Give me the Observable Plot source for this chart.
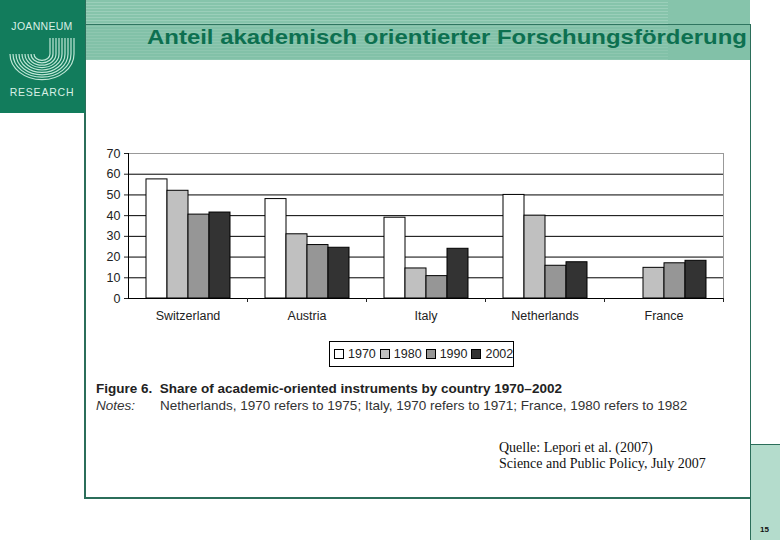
<!DOCTYPE html>
<html><head><meta charset="utf-8">
<script src="https://cdn.jsdelivr.net/npm/d3@7"></script>
<script src="https://cdn.jsdelivr.net/npm/@observablehq/plot@0.6"></script>
<style>
html,body{margin:0;padding:0;background:#fff;}
#page{position:relative;width:780px;height:540px;overflow:hidden;font-family:"Liberation Sans",Arial,sans-serif;}
.abs{position:absolute;}
.stripes{background:repeating-linear-gradient(to bottom,#86c4ab 0px,#86c4ab 2px,#9bcfba 2px,#9bcfba 3px);}
</style></head>
<body><div id="page">
  <div class="abs stripes" style="left:85px;top:0;width:583px;height:24px;"></div>
  <div class="abs" style="left:668px;top:0;width:82px;height:24px;background:#86c4ab;"></div>
  <div class="abs" style="left:85px;top:24px;width:583px;height:36px;background:repeating-linear-gradient(to bottom,#82c1a8 0px,#82c1a8 2px,#8ec7b0 2px,#8ec7b0 3px);"></div>
  <div class="abs" style="left:668px;top:24px;width:82px;height:36px;background:#82c1a8;"></div>
  <div class="abs" style="left:85px;top:24px;width:665px;height:1px;background:#2f7560;"></div>
  <div class="abs" style="left:84px;top:0;width:1.5px;height:498px;background:#2b6e5a;"></div>
  <div class="abs" style="left:84px;top:497px;width:667px;height:1.5px;background:#2b6e5a;"></div>
  <div class="abs" style="left:749.5px;top:24px;width:1.5px;height:516px;background:#2b6e5a;"></div>
  <div class="abs" style="left:751px;top:444px;width:29px;height:96px;background:#b4dccc;border-top:1px solid #2b6e5a;"></div>
  <div class="abs" style="left:760px;top:525px;font-size:8px;font-weight:bold;color:#111;">15</div>
  <svg class="abs" style="left:0;top:0;" width="85" height="113">
    <rect x="0" y="0" width="85" height="113" fill="#127c5c"/>
    <text x="42" y="30" text-anchor="middle" font-size="10.5" fill="#d8efe5" letter-spacing="0.3" font-family="Liberation Sans, Arial">JOANNEUM</text>
    <text x="42" y="96" text-anchor="middle" font-size="10.5" fill="#d8efe5" letter-spacing="0.8" font-family="Liberation Sans, Arial">RESEARCH</text>
    <g fill="none" stroke="#bfe6d6" stroke-width="1.2" id="logo"></g>
  </svg>
  <div class="abs" style="left:147px;top:25px;font-size:21px;font-weight:bold;color:#0d7050;white-space:nowrap;transform:scaleX(1.14);transform-origin:left top;">Anteil akademisch orientierter Forschungsförderung</div>
  <div id="chart" class="abs" style="left:90px;top:140px;"></div>
  <div id="legend" class="abs" style="left:329px;top:341px;width:185px;height:26px;border:1px solid #000;box-sizing:border-box;display:flex;align-items:center;padding-left:4px;gap:0;font-size:12.5px;color:#222;"></div>
  <div class="abs" style="left:96px;top:380px;font-size:13.5px;line-height:17px;color:#333;white-space:nowrap;">
    <div style="font-weight:bold;color:#222;">Figure 6.&nbsp; Share of academic-oriented instruments by country 1970–2002</div>
    <div><span style="font-style:italic;display:inline-block;width:64px;">Notes:</span>Netherlands, 1970 refers to 1975; Italy, 1970 refers to 1971; France, 1980 refers to 1982</div>
  </div>
  <div class="abs" style="left:499px;top:440px;font-family:'Liberation Serif','Times New Roman',serif;font-size:14px;line-height:16px;color:#111;white-space:nowrap;">
    <div>Quelle: Lepori et al. (2007)</div>
    <div>Science and Public Policy, July 2007</div>
  </div>
</div>
<script>
const countries = ["Switzerland", "Austria", "Italy", "Netherlands", "France"];
const years = ["1970", "1980", "1990", "2002"];
const share1970 = [57.5, 48, 39, 50, null];
const share1980 = [52, 31, 14.5, 40, 14.8];
const share1990 = [40.5, 25.8, 10.8, 15.8, 17];
const share2002 = [41.5, 24.5, 24, 17.5, 18.2];
const yTicks = [0, 10, 20, 30, 40, 50, 60, 70];
const barColors = ["#ffffff", "#c0c0c0", "#969696", "#333333"];

const series = [share1970, share1980, share1990, share2002];
const rows = [];
countries.forEach((c, i) => years.forEach((y, j) => {
  const v = series[j][i];
  if (v != null) rows.push({country: c, year: y, value: v});
}));

// logo stripes (decorative)
const g = document.getElementById("logo");
for (let k = 0; k < 9; k++) {
  const r = 8 + k * 3;
  const cx = 42, cy = 54;
  const p = document.createElementNS("http://www.w3.org/2000/svg", "path");
  p.setAttribute("d", `M${cx + r},38 L${cx + r},${cy} A${r},${r * 0.8} 0 0 1 ${cx - r},${cy}`);
  g.appendChild(p);
}

const chart = Plot.plot({
  width: 640, height: 188,
  marginLeft: 38, marginRight: 7, marginTop: 13, marginBottom: 30,
  style: {fontFamily: "'Liberation Sans', Arial, sans-serif", fontSize: "12.5px", color: "#222", background: "transparent"},
  fx: {domain: countries, padding: 0, label: null},
  x: {domain: years, paddingInner: 0, paddingOuter: 0.77, axis: null},
  y: {domain: [0, 70], label: null},
  color: {domain: years, range: barColors},
  marks: [
    Plot.ruleY(yTicks.slice(1, -1), {stroke: "#000", strokeWidth: 1}),
    Plot.ruleY([70], {stroke: "#999"}),
    Plot.barY(rows, {fx: "country", x: "year", y: "value", fill: "year", stroke: "#000", strokeWidth: 1}),
    Plot.ruleY([0], {stroke: "#000"}),
    Plot.frame({anchor: "right", stroke: "#999", facetAnchor: "right"}),
    Plot.axisY({ticks: yTicks, tickSize: 4, tickPadding: 4, label: null, facetAnchor: "left"}),
    Plot.frame({anchor: "left", stroke: "#000", facetAnchor: "left"}),
    Plot.axisFx({anchor: "bottom", tickSize: 0, tickPadding: 13, label: null}),
    Plot.axisFx({anchor: "bottom", tickSize: 4, tickFormat: () => "", dx: 59.5, label: null})
  ]
});
document.getElementById("chart").appendChild(chart);

const legend = document.getElementById("legend");
years.forEach((y, j) => {
  const item = document.createElement("span");
  item.style.cssText = "display:inline-flex;align-items:center;margin-right:4px;";
  const sw = document.createElement("span");
  sw.style.cssText = `display:inline-block;width:8px;height:8px;border:1px solid #000;background:${barColors[j]};margin-right:4px;`;
  item.appendChild(sw);
  item.appendChild(document.createTextNode(y));
  legend.appendChild(item);
});
</script>
</body></html>
